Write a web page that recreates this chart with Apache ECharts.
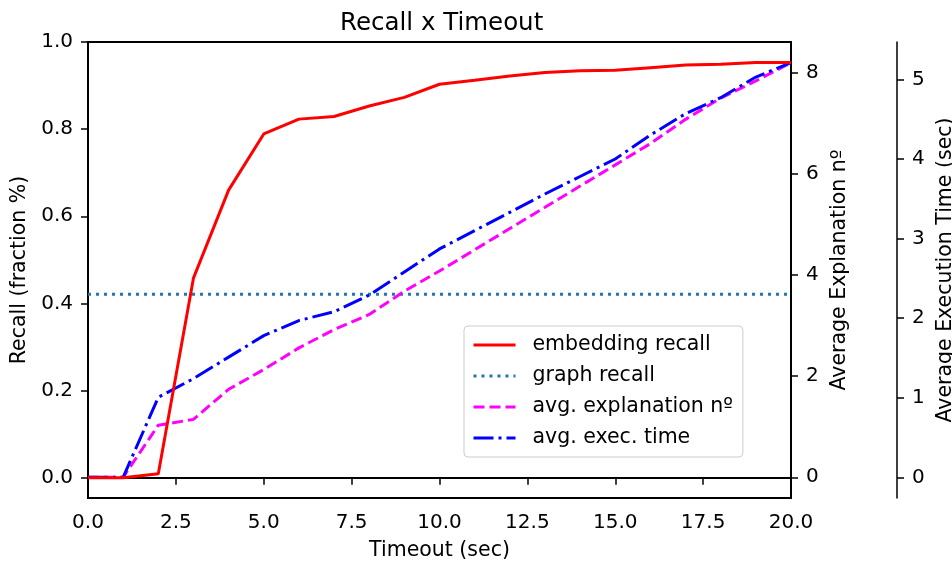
<!DOCTYPE html>
<html>
<head>
<meta charset="utf-8">
<title>Recall x Timeout</title>
<script src="https://cdn.jsdelivr.net/npm/echarts@6/dist/echarts.min.js"></script>
<style>
  html, body { margin: 0; padding: 0; background: #fff; }
  #chart { width: 952px; height: 563px; }
</style>
</head>
<body>
<div id="chart"></div>
<script>
// timeout values (sec)
const timeout = [0, 1, 2, 3, 4, 5, 6, 7, 8, 9, 10, 11, 12, 13, 14, 15, 16, 17, 18, 19, 20]
// recall (fraction) - left axis
const embeddingRecall = [0, 0, 0.009, 0.458, 0.66, 0.789, 0.823, 0.829, 0.853, 0.873, 0.903,
  0.912, 0.922, 0.930, 0.934, 0.935, 0.941, 0.947, 0.949, 0.953, 0.953]
// graph recall is a flat reference line
const graphRecallX = [0, 20]
const graphRecall = [0.421, 0.421]
// avg. explanation nº - first right axis
const avgExplanation = [0, 0, 1.03, 1.145, 1.74, 2.13, 2.56, 2.92, 3.22, 3.68, 4.08,
  4.5, 4.92, 5.34, 5.76, 6.18, 6.6, 7.08, 7.5, 7.84, 8.2]
// avg. exec. time (sec) - second right axis
const avgExecTime = [0, 0, 1.006, 1.24, 1.51, 1.78, 1.97, 2.08, 2.29, 2.58, 2.87,
  3.10, 3.33, 3.56, 3.78, 4.0, 4.30, 4.57, 4.77, 5.03, 5.21]

// tick labels
const recallTicks = [0, 0.2, 0.4, 0.6, 0.8, 1.0]
const explTicks = [0, 2, 4, 6, 8]
const timeTicks = [0, 1, 2, 3, 4, 5]

const FONT = 'DejaVu Sans'
const pair = (xs, ys) => xs.map((x, i) => [x, ys[i]])

const axisLine = { show: true, lineStyle: { color: '#000', width: 2 } }
const axisTick = { show: true, inside: false, length: 7, lineStyle: { color: '#000', width: 1.5 } }
const label = { color: '#000', fontFamily: FONT, fontSize: 20 }
const nameStyle = { color: '#000', fontFamily: FONT, fontSize: 20.5 }

const chart = echarts.init(document.getElementById('chart'), null, { renderer: 'canvas' })

chart.setOption({
  animation: false,
  backgroundColor: '#fff',
  textStyle: { fontFamily: FONT },
  title: {
    text: 'Recall x Timeout',
    left: 335,
    top: 6,
    textStyle: { color: '#000', fontFamily: FONT, fontSize: 24.5, fontWeight: 'normal' }
  },
  grid: {
    left: 88,
    top: 42,
    right: 161,
    bottom: 65,
    containLabel: false,
    outerBoundsMode: 'none',
    show: true,
    borderColor: '#000',
    borderWidth: 2,
    backgroundColor: 'transparent'
  },
  legend: {
    orient: 'vertical',
    left: 464,
    top: 326,
    padding: [8, 10, 8, 8],
    itemWidth: 42,
    itemHeight: 14,
    itemGap: 9,
    backgroundColor: 'rgba(255,255,255,0.8)',
    borderColor: '#cccccc',
    borderWidth: 1,
    borderRadius: 4,
    itemStyle: { opacity: 0 },
    lineStyle: { width: 3 },
    textStyle: { color: '#000', fontFamily: FONT, fontSize: 20.5, lineHeight: 22, padding: [0, 0, 0, 12] },
    data: ['embedding recall', 'graph recall', 'avg. explanation nº', 'avg. exec. time']
  },
  xAxis: {
    type: 'value',
    min: 0,
    max: 20,
    interval: 2.5,
    name: 'Timeout (sec)',
    nameLocation: 'middle',
    nameGap: 42,
    nameTextStyle: nameStyle,
    axisLine: axisLine,
    axisTick: axisTick,
    axisLabel: { ...label, margin: 15, formatter: v => v.toFixed(1) },
    splitLine: { show: false }
  },
  yAxis: [
    {
      type: 'value',
      position: 'left',
      min: -0.0465,
      max: 1.0,
      name: 'Recall (fraction %)',
      nameLocation: 'middle',
      nameRotate: 90,
      nameGap: 57,
      nameTextStyle: nameStyle,
      axisLine: axisLine,
      axisTick: { ...axisTick, customValues: recallTicks },
      axisLabel: { ...label, margin: 15, customValues: recallTicks, formatter: v => v.toFixed(1) },
      splitLine: { show: false }
    },
    {
      type: 'value',
      position: 'right',
      min: -0.41,
      max: 8.61,
      name: 'Average Explanation nº',
      nameLocation: 'middle',
      nameRotate: 90,
      nameGap: 38,
      nameTextStyle: nameStyle,
      axisLine: axisLine,
      axisTick: { ...axisTick, customValues: explTicks },
      axisLabel: { ...label, margin: 15, customValues: explTicks },
      splitLine: { show: false }
    },
    {
      type: 'value',
      position: 'right',
      offset: 106,
      min: -0.26,
      max: 5.47,
      name: 'Average Execution Time (sec)',
      nameLocation: 'middle',
      nameRotate: 90,
      nameGap: 37,
      nameTextStyle: nameStyle,
      axisLine: { show: true, lineStyle: { color: '#000', width: 1.5 } },
      axisTick: { ...axisTick, customValues: timeTicks },
      axisLabel: { ...label, margin: 15, customValues: timeTicks },
      splitLine: { show: false }
    }
  ],
  series: [
    {
      name: 'embedding recall',
      type: 'line',
      yAxisIndex: 0,
      data: pair(timeout, embeddingRecall),
      showSymbol: false,
      symbol: 'none',
      color: '#ff0000',
      lineStyle: { color: '#ff0000', width: 3 },
      z: 4
    },
    {
      name: 'graph recall',
      type: 'line',
      yAxisIndex: 0,
      data: pair(graphRecallX, graphRecall),
      showSymbol: false,
      symbol: 'none',
      color: '#1f77b4',
      lineStyle: { color: '#1f77b4', width: 3, type: [3, 5], cap: 'butt' },
      z: 3
    },
    {
      name: 'avg. explanation nº',
      type: 'line',
      yAxisIndex: 1,
      data: pair(timeout, avgExplanation),
      showSymbol: false,
      symbol: 'none',
      color: '#ff00ff',
      lineStyle: { color: '#ff00ff', width: 3, type: [11, 5], cap: 'butt' },
      z: 3
    },
    {
      name: 'avg. exec. time',
      type: 'line',
      yAxisIndex: 2,
      data: pair(timeout, avgExecTime),
      showSymbol: false,
      symbol: 'none',
      color: '#0000ff',
      lineStyle: { color: '#0000ff', width: 3, type: [20, 5, 3, 5], cap: 'butt' },
      z: 3
    }
  ]
})
</script>
</body>
</html>
